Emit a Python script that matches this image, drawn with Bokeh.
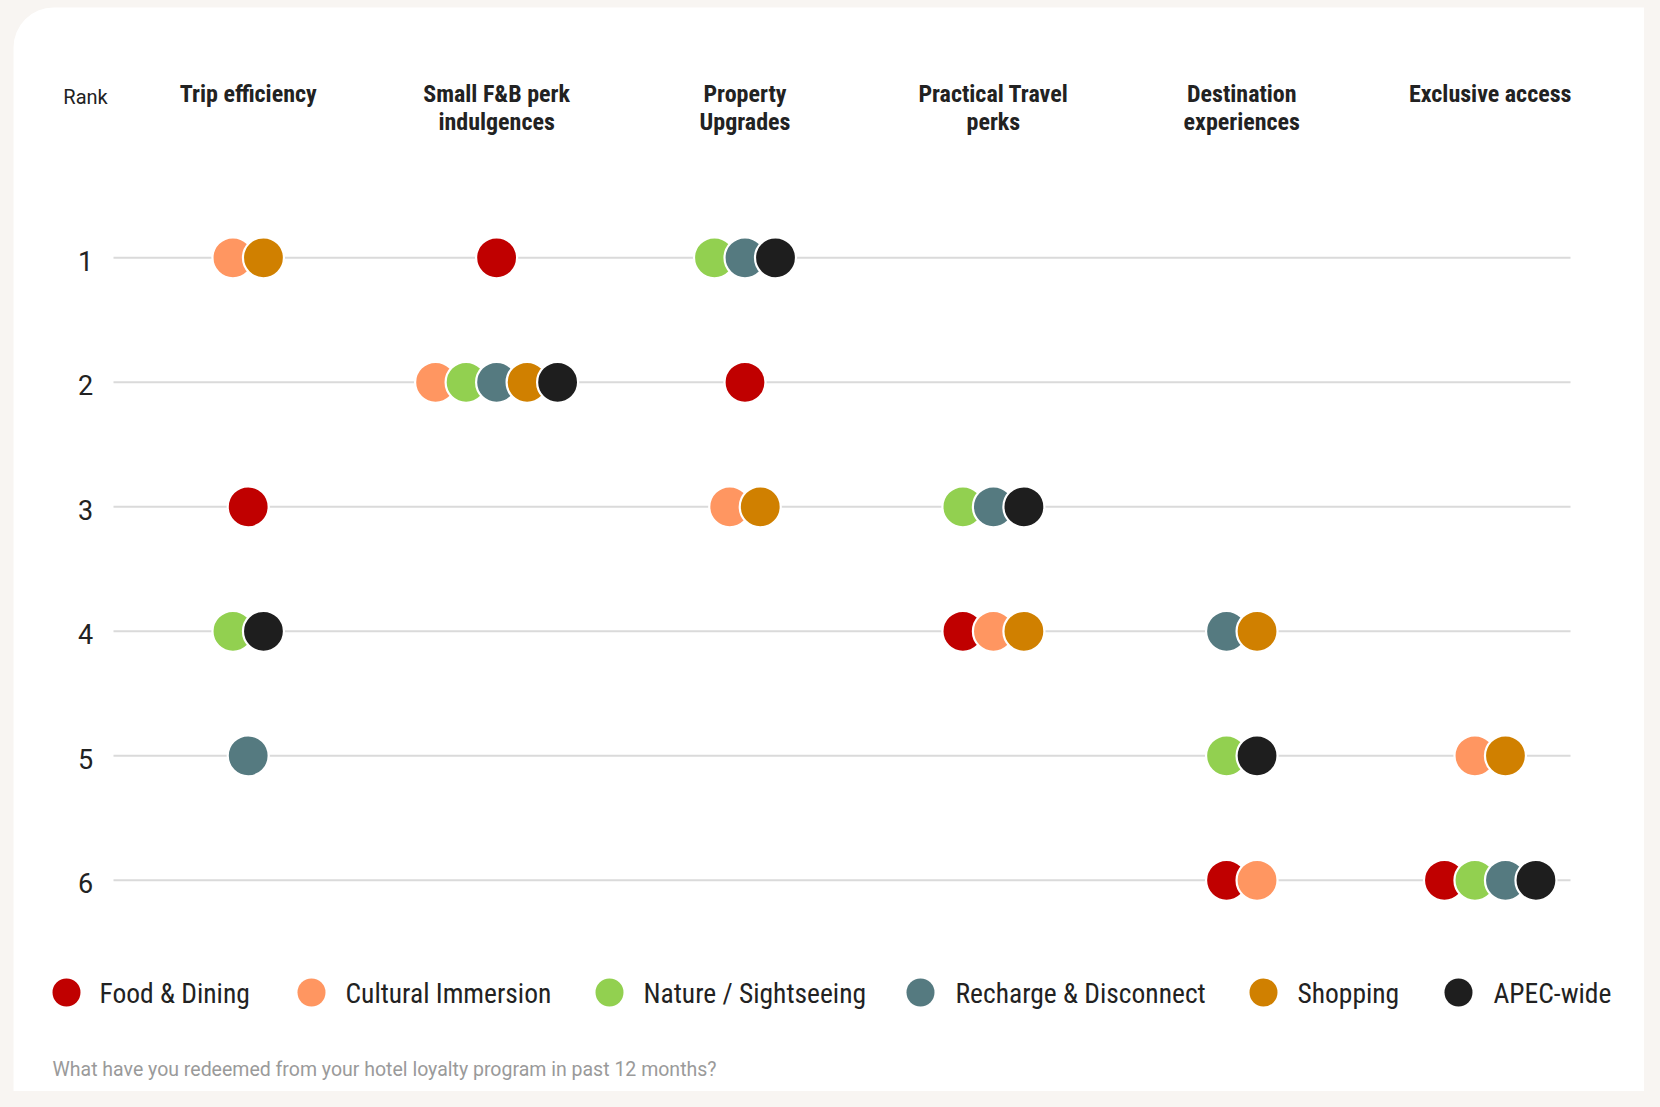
from bokeh.plotting import figure
from bokeh.models import Range1d, BoxAnnotation, ColumnDataSource
from bokeh.core.properties import value
from bokeh.embed import file_html
from bokeh.resources import INLINE

# ---------------- data ----------------
categories = ["Trip efficiency", "Small F&B perk\nindulgences", "Property\nUpgrades",
              "Practical Travel\nperks", "Destination\nexperiences", "Exclusive access"]
segments = ["Food & Dining", "Cultural Immersion", "Nature / Sightseeing",
            "Recharge & Disconnect", "Shopping", "APEC-wide"]
colors = ["#c00000", "#ff9661", "#92d050", "#557a80", "#d08000", "#1e1e1e"]
rank_labels = ["1", "2", "3", "4", "5", "6"]

# rank of each category (in category order) for each segment
food_dining = [3, 1, 2, 4, 6, 6]
cultural_immersion = [1, 2, 3, 4, 6, 5]
nature_sightseeing = [4, 2, 1, 3, 5, 6]
recharge_disconnect = [5, 2, 1, 3, 4, 6]
shopping = [1, 2, 3, 4, 4, 5]
apec_wide = [4, 2, 1, 3, 5, 6]
seg_ranks = [food_dining, cultural_immersion, nature_sightseeing,
             recharge_disconnect, shopping, apec_wide]

footnote = "What have you redeemed from your hotel loyalty program in past 12 months?"

# ---------------- layout ----------------
W, H = 1644, 1091
X0, DX = 247.7, 248.4     # pixel of first column, pixels per column
Y0, DY = 257.3, 124.5     # pixel of rank 1, pixels per rank


def fx(px):
    return (px - X0) / DX


def fy(py):
    return 1 + (py - Y0) / DY


COND = "Roboto Condensed"
REG = "Roboto"

p = figure(width=W, height=H,
           x_range=Range1d(fx(0), fx(W)), y_range=Range1d(fy(H), fy(0)),
           output_backend="svg", toolbar_location=None,
           x_axis_type=None, y_axis_type=None, min_border=0,
           outline_line_color=None,
           background_fill_color="#f8f5f2", border_fill_color="#f8f5f2")
p.xgrid.visible = False
p.ygrid.visible = False

# white rounded card
card = BoxAnnotation(left=fx(13), right=fx(1690), top=fy(7), bottom=fy(1140),
                     fill_color="white", fill_alpha=1.0, line_color=None,
                     border_radius=40, level="underlay")
p.add_layout(card)

# grid line per rank
ranks = list(range(1, len(rank_labels) + 1))
p.segment(x0=[fx(113)] * len(ranks), x1=[fx(1570)] * len(ranks), y0=ranks, y1=ranks,
          line_color="#dadada", line_width=2)

# rank labels
p.text(x=[fx(85)] * len(ranks), y=[r + 3 / DY for r in ranks], text=rank_labels,
       text_font=value(REG), text_font_size="27px", text_color="#222222",
       text_align="center", text_baseline="middle")
p.text(x=[fx(85)], y=[fy(96)], text=["Rank"],
       text_font=value(REG), text_font_size="20px", text_color="#222222",
       text_align="center", text_baseline="middle")

# column headers
hx1, hy1, ht1 = [], [], []
for i, c in enumerate(categories):
    for k, ln in enumerate(c.split("\n")):
        hx1.append(i)
        hy1.append(fy(93 + 28.5 * k))
        ht1.append(ln)
p.text(x=hx1, y=hy1, text=ht1, text_font=value(COND), text_font_style="bold",
       text_font_size="24px", text_color="#222222", text_align="center",
       text_baseline="middle")

# dots
SP = 30.5 / DX
xs, ys, cs = [], [], []
for ci in range(len(categories)):
    for r in ranks:
        members = [si for si in range(len(segments)) if seg_ranks[si][ci] == r]
        n = len(members)
        for j, si in enumerate(members):
            xs.append(ci + (j - (n - 1) / 2) * SP)
            ys.append(r)
            cs.append(colors[si])
src = ColumnDataSource(dict(x=xs, y=ys, c=cs))
p.scatter("x", "y", source=src, size=41, fill_color="c", line_color="white",
          line_width=2.2)

# legend
leg_marker_px = [66, 311, 609, 920, 1263, 1458]
leg_text_px = [99, 345, 643, 955, 1297, 1493]
ly = fy(992)
p.scatter([fx(v) for v in leg_marker_px], [ly] * 6, size=28, fill_color=colors,
          line_color=None)
p.text([fx(v) for v in leg_text_px], [ly + 1 / DY] * 6, text=segments,
       text_font=value(COND), text_font_size="27.5px", text_color="#222222",
       text_align="left", text_baseline="middle")

# footnote
p.text([fx(52)], [fy(1069)], text=[footnote], text_font=value(REG),
       text_font_size="19.5px", text_color="#9a9a9a", text_align="left",
       text_baseline="middle")

html = file_html(p, INLINE)
html = html.replace("</head>", "<style>body{background:#f8f5f2;}</style></head>", 1)
open("out.html", "w").write(html)
